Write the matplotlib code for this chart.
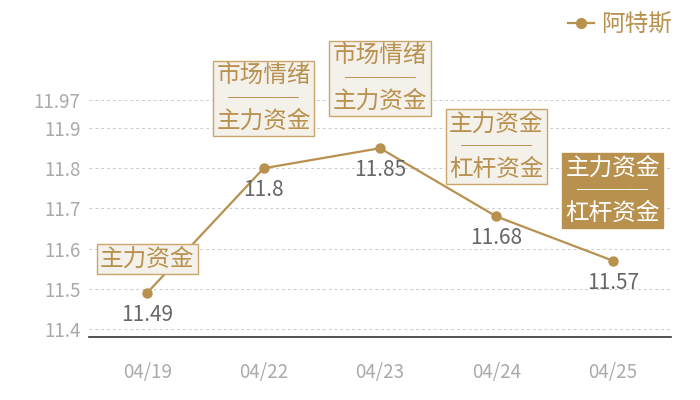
import matplotlib
matplotlib.use("Agg")
import matplotlib.pyplot as plt
from matplotlib.lines import Line2D

plt.rcParams['font.family'] = ['Noto Sans CJK SC', 'DejaVu Sans']

dates = ["04/19", "04/22", "04/23", "04/24", "04/25"]
values = [11.49, 11.8, 11.85, 11.68, 11.57]
notes = ["主力资金",
         "市场情绪\n───\n主力资金",
         "市场情绪\n───\n主力资金",
         "主力资金\n───\n杠杆资金",
         "主力资金\n───\n杠杆资金"]
highlight = [False, False, False, False, True]
yticks = [11.4, 11.5, 11.6, 11.7, 11.8, 11.9, 11.97]
series_name = "阿特斯"

GOLD = "#b8914f"
BOX_FC = "#f4f0ea"
BOX_EC = "#caa56c"

fig = plt.figure(figsize=(7, 4), dpi=100)
ax = fig.add_axes([89/700, (400-337)/400, (671-89)/700, 237/400])

x = list(range(len(dates)))
ax.plot(x, values, color=GOLD, lw=1.6, marker='o', ms=6.5, zorder=3)

ax.set_xlim(-0.5, len(dates) - 0.5)
ax.set_ylim(11.38, 11.97)
ax.set_yticks(yticks)
ax.set_yticklabels([f"{t:g}" for t in yticks])
ax.set_xticks(x)
ax.set_xticklabels(dates)
ax.tick_params(axis='both', length=0, labelsize=13.5, labelcolor="#aaaaaa")
ax.tick_params(axis='x', pad=18)
ax.tick_params(axis='y', pad=6)

for s in ['top', 'right', 'left']:
    ax.spines[s].set_visible(False)
ax.spines['bottom'].set_color("#333333")
ax.spines['bottom'].set_linewidth(1.2)
ax.grid(axis='y', color="#cccccc", lw=0.7, linestyle=(0, (3, 3)))
ax.set_axisbelow(True)

for i, (v, note, hl) in enumerate(zip(values, notes, highlight)):
    ax.annotate(f"{v:g}", xy=(i, v), xytext=(0, -22), textcoords='offset pixels',
                ha='center', va='center', fontsize=15, color="#666666", zorder=4)
    nlines = note.count("\n") + 1
    off = 34 if nlines == 1 else 70
    ax.annotate(note, xy=(i, v), xytext=(0, off), textcoords='offset pixels',
                ha='center', va='center', fontsize=17, linespacing=0.98,
                color="white" if hl else GOLD, zorder=5, annotation_clip=False,
                bbox=dict(boxstyle='square,pad=0.14',
                          fc=GOLD if hl else BOX_FC,
                          ec=GOLD if hl else BOX_EC, lw=1))

handle = Line2D([], [], color=GOLD, lw=1.6, marker='o', ms=7)
fig.legend([handle], [series_name], loc='upper right', bbox_to_anchor=(0.99, 1.02),
           frameon=False, fontsize=17, labelcolor=GOLD, handlelength=1.1,
           handletextpad=0.3)

fig.savefig("out.png", dpi=100)
